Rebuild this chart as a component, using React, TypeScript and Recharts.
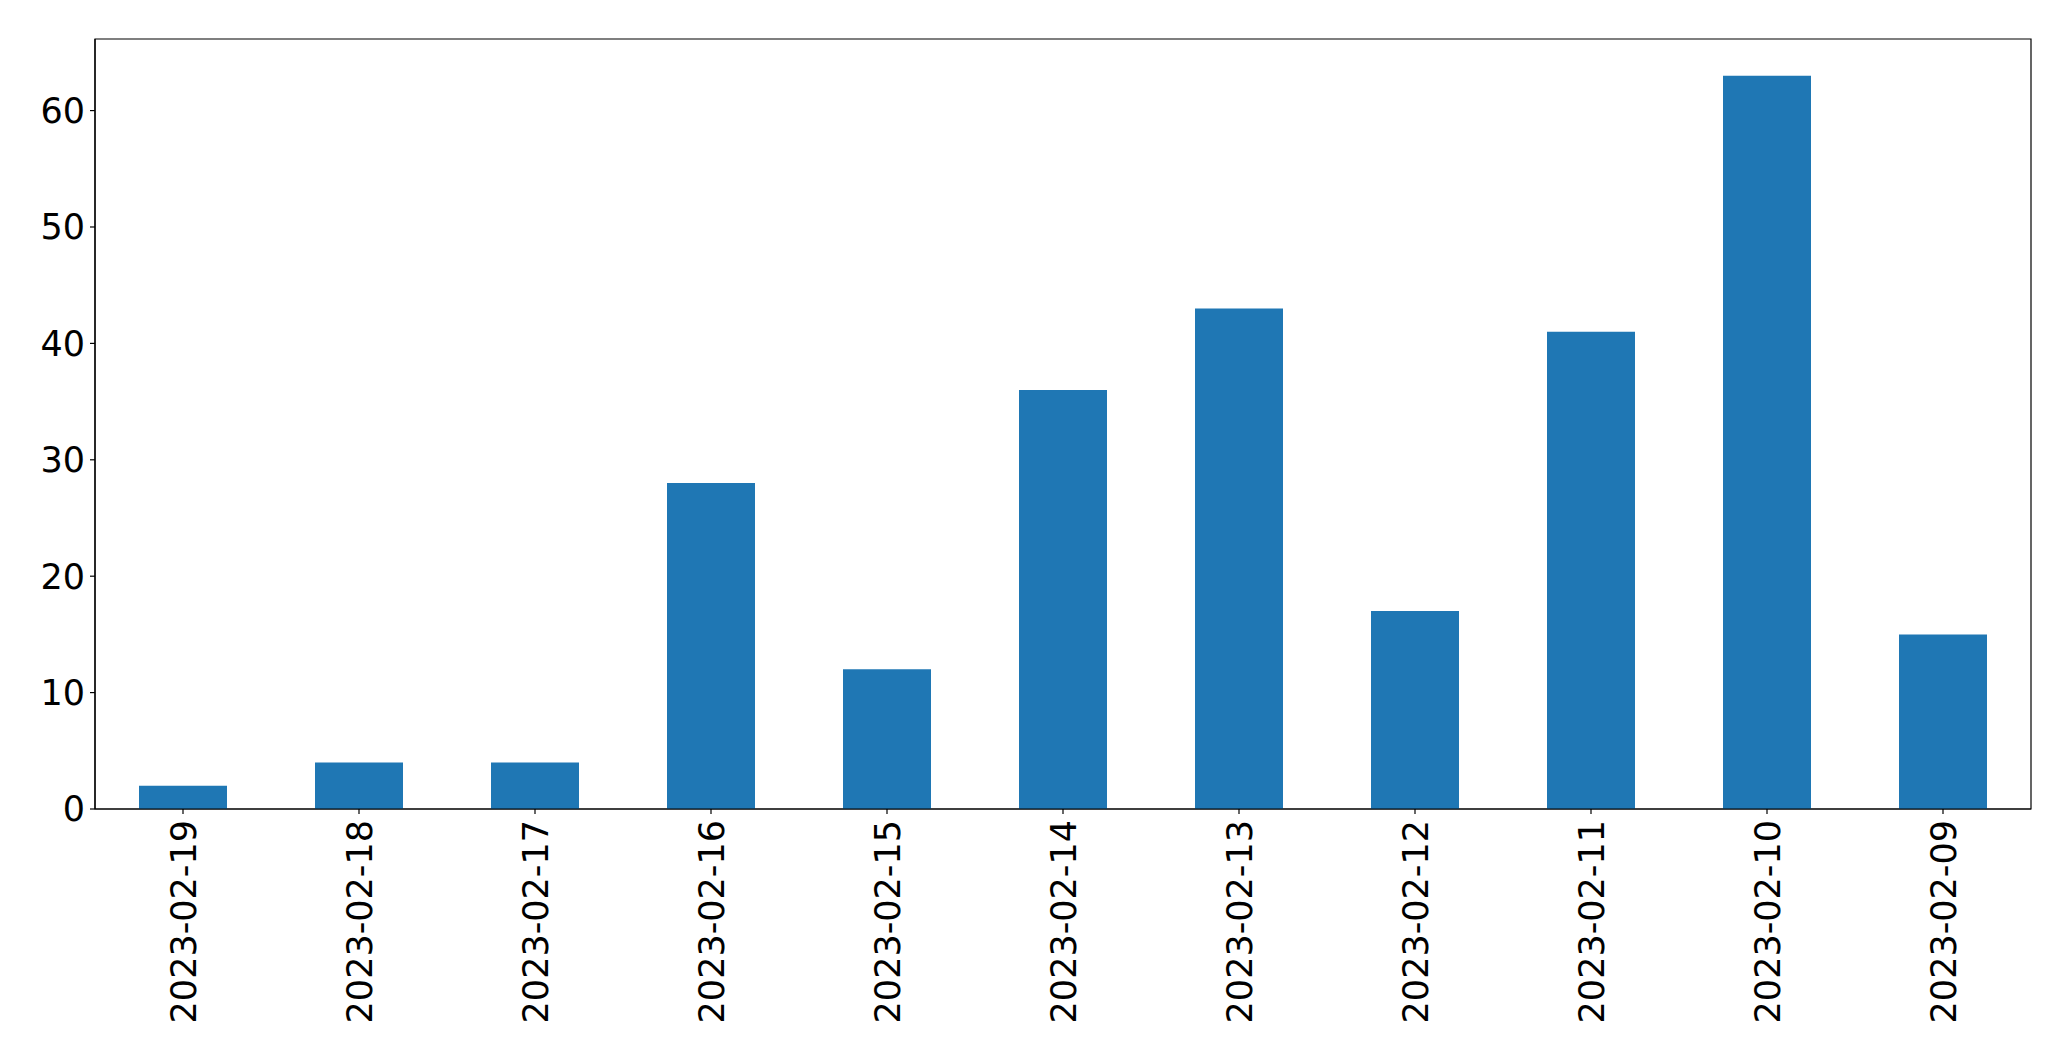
import { BarChart, Bar, XAxis, YAxis, ReferenceArea } from 'recharts';

const dates = [
  '2023-02-19',
  '2023-02-18',
  '2023-02-17',
  '2023-02-16',
  '2023-02-15',
  '2023-02-14',
  '2023-02-13',
  '2023-02-12',
  '2023-02-11',
  '2023-02-10',
  '2023-02-09',
];
const counts = [2, 4, 4, 28, 12, 36, 43, 17, 41, 63, 15];
const yTicks = [0, 10, 20, 30, 40, 50, 60];

const data = dates.map((date, i) => ({ date, count: counts[i] }));

const FONT = 'DejaVu Sans, sans-serif';
const FONT_SIZE = 35;

function DateTick(props: any) {
  const { x, payload } = props;
  const y = 820;
  return (
    <text
      x={x}
      y={y}
      transform={`rotate(-90, ${x}, ${y})`}
      textAnchor="end"
      dy="0.36em"
      fontSize={FONT_SIZE}
      fontFamily={FONT}
      fill="#000"
    >
      {payload.value}
    </text>
  );
}

export default function App() {
  return (
    <div style={{ position: 'absolute', left: 0, top: 0, background: '#fff' }}>
      <BarChart
        width={2071}
        height={1061}
        data={data}
        margin={{ top: 39, right: 40, left: 0, bottom: 0 }}
        barCategoryGap="25%"
      >
        <XAxis
          dataKey="date"
          height={252}
          interval={0}
          tick={<DateTick />}
          tickSize={5}
          stroke="#000"
          tickLine={{ stroke: '#000', strokeWidth: 1.2 }}
          axisLine={{ stroke: '#000', strokeWidth: 1.2 }}
        />
        <YAxis
          width={95}
          domain={[0, 66.15]}
          ticks={yTicks}
          allowDataOverflow
          tickSize={5}
          tickMargin={5}
          stroke="#000"
          tick={{ fontSize: FONT_SIZE, fontFamily: FONT, fill: '#000' }}
          tickLine={{ stroke: '#000', strokeWidth: 1.2 }}
          axisLine={{ stroke: '#000', strokeWidth: 1.2 }}
        />
        <Bar dataKey="count" fill="#1f77b4" isAnimationActive={false} />
        <ReferenceArea
          y1={0}
          y2={66.15}
          fill="none"
          fillOpacity={0}
          stroke="#000"
          strokeWidth={1.2}
          ifOverflow="visible"
        />
      </BarChart>
    </div>
  );
}
